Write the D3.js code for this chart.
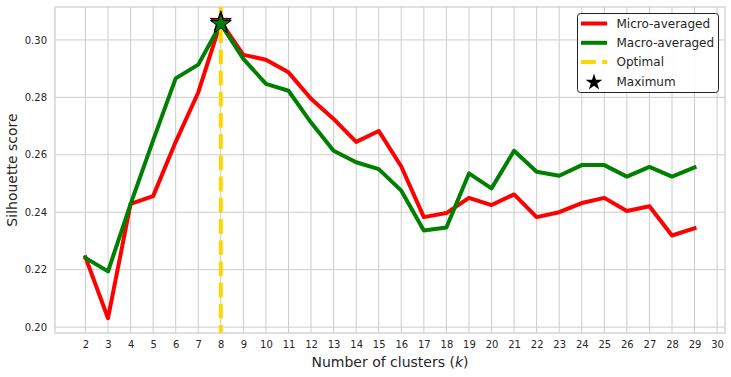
<!DOCTYPE html>
<html>
<head>
<meta charset="utf-8">
<script src="https://cdn.jsdelivr.net/npm/d3@7"></script>
<style>
	body { margin: 0; background: #fff; }
	svg { display: block; font-family: 'DejaVu Sans', sans-serif; }
</style>
</head>
<body>
<div id="chart"></div>
<script>
// number of clusters k
let clusters = d3.range(2, 30)
let xTicks = d3.range(2, 31)
let yTicks = [0.20, 0.22, 0.24, 0.26, 0.28, 0.30]

let microScores = [0.2243, 0.2031, 0.2429, 0.2456, 0.2645, 0.2817, 0.3063, 0.2948, 0.2931, 0.2887,
	0.2795, 0.2725, 0.2645, 0.2683, 0.2559, 0.2383, 0.2397, 0.2450, 0.2425, 0.2462,
	0.2383, 0.2400, 0.2432, 0.2450, 0.2404, 0.2421, 0.2319, 0.2344]
let macroScores = [0.2241, 0.2194, 0.2428, 0.2650, 0.2866, 0.2914, 0.3056, 0.2934, 0.2847, 0.2823,
	0.2712, 0.2614, 0.2574, 0.2550, 0.2475, 0.2336, 0.2347, 0.2535, 0.2483, 0.2614,
	0.2541, 0.2527, 0.2564, 0.2564, 0.2524, 0.2558, 0.2524, 0.2556]
let optimalK = 8

let legendItems = ['Micro-averaged', 'Macro-averaged', 'Optimal', 'Maximum']

let width = 731
let height = 377
let margin = { left: 55, right: 6, top: 7, bottom: 44 }

let svg = d3
	.select('#chart')
	.append('svg:svg')
	.attr('width', width)
	.attr('height', height)

// matplotlib style 5% padding
let xLo = d3.min(clusters), xHi = d3.max(clusters)
let xPad = (xHi - xLo) * 0.05
let allScores = microScores.concat(macroScores)
let yLo = d3.min(allScores), yHi = d3.max(allScores)
let yPad = (yHi - yLo) * 0.05

let x = d3.scaleLinear()
	.domain([xLo - xPad, xHi + xPad])
	.range([margin.left, width - margin.right])
let y = d3.scaleLinear()
	.domain([yLo - yPad, yHi + yPad])
	.range([height - margin.bottom, margin.top])

let gridColor = '#cccccc'
let textColor = '#262626'

// grid
svg.append('g')
	.selectAll('line')
	.data(xTicks)
	.join('line')
	.attr('x1', d => x(d)).attr('x2', d => x(d))
	.attr('y1', margin.top).attr('y2', height - margin.bottom)
	.attr('stroke', gridColor).attr('stroke-width', 1)
svg.append('g')
	.selectAll('line')
	.data(yTicks)
	.join('line')
	.attr('x1', margin.left).attr('x2', width - margin.right)
	.attr('y1', d => y(d)).attr('y2', d => y(d))
	.attr('stroke', gridColor).attr('stroke-width', 1)

// axes
let xAxis = svg.append('g')
	.attr('transform', `translate(0,${height - margin.bottom})`)
	.call(d3.axisBottom(x).tickValues(xTicks).tickSize(0).tickPadding(8).tickFormat(d3.format('d')))
let yAxis = svg.append('g')
	.attr('transform', `translate(${margin.left},0)`)
	.call(d3.axisLeft(y).tickValues(yTicks).tickSize(0).tickPadding(8).tickFormat(d3.format('.2f')))
for (let ax of [xAxis, yAxis]) {
	ax.select('.domain').remove()
	ax.selectAll('text')
		.attr('fill', textColor)
		.attr('font-size', 10)
		.attr('font-family', "'DejaVu Sans', sans-serif")
}

// frame
svg.append('rect')
	.attr('x', margin.left)
	.attr('y', margin.top)
	.attr('width', width - margin.left - margin.right)
	.attr('height', height - margin.top - margin.bottom)
	.attr('fill', 'none')
	.attr('stroke', gridColor)
	.attr('stroke-width', 1.2)

// labels
svg.append('text')
	.attr('x', (margin.left + width - margin.right) / 2)
	.attr('y', 367)
	.attr('text-anchor', 'middle')
	.attr('font-size', 14)
	.attr('fill', textColor)
	.html('Number of clusters (<tspan font-style="italic">k</tspan>)')
svg.append('text')
	.attr('transform', `translate(17,${(margin.top + height - margin.bottom) / 2}) rotate(-90)`)
	.attr('text-anchor', 'middle')
	.attr('font-size', 14)
	.attr('fill', textColor)
	.text('Silhouette score')

// series lines
let line = values => d3.line()
	.x((d, i) => x(clusters[i]))
	.y(d => y(d))(values)

svg.append('path')
	.attr('d', line(microScores))
	.attr('fill', 'none')
	.attr('stroke', '#ff0000')
	.attr('stroke-width', 4)
	.attr('stroke-linejoin', 'round')
	.attr('stroke-linecap', 'square')
svg.append('path')
	.attr('d', line(macroScores))
	.attr('fill', 'none')
	.attr('stroke', '#008000')
	.attr('stroke-width', 4)
	.attr('stroke-linejoin', 'round')
	.attr('stroke-linecap', 'square')

// optimal k
svg.append('line')
	.attr('x1', x(optimalK)).attr('x2', x(optimalK))
	.attr('y1', margin.top).attr('y2', height - margin.bottom)
	.attr('stroke', '#ffd700')
	.attr('stroke-width', 4)
	.attr('stroke-dasharray', '14.8,6.4')

// maxima
let star = d3.symbol().type(d3.symbolStar).size(136)
let maxMicro = d3.maxIndex(microScores)
let maxMacro = d3.maxIndex(macroScores)
svg.append('path')
	.attr('d', star())
	.attr('transform', `translate(${x(clusters[maxMicro])},${y(microScores[maxMicro])})`)
	.attr('fill', '#ff0000')
	.attr('stroke', '#000')
	.attr('stroke-width', 1)
svg.append('path')
	.attr('d', star())
	.attr('transform', `translate(${x(clusters[maxMacro])},${y(macroScores[maxMacro])})`)
	.attr('fill', '#008000')
	.attr('stroke', '#000')
	.attr('stroke-width', 1)

// legend
let legend = svg.append('g').attr('transform', 'translate(577,13)')
legend.append('rect')
	.attr('x', 0.5).attr('y', 0.5)
	.attr('width', 141).attr('height', 79)
	.attr('rx', 3)
	.attr('fill', '#fff')
	.attr('fill-opacity', 0.9)
	.attr('stroke', '#222')
	.attr('stroke-width', 1)

let rowY = i => 10.5 + i * 19.3
legend.selectAll('text')
	.data(legendItems)
	.join('text')
	.attr('x', 39.5)
	.attr('y', (d, i) => rowY(i))
	.attr('dy', '0.35em')
	.attr('font-size', 12)
	.attr('fill', textColor)
	.text(d => d)

let handleColors = ['#ff0000', '#008000', '#ffd700']
legend.selectAll('line')
	.data(handleColors)
	.join('line')
	.attr('x1', 4).attr('x2', 30)
	.attr('y1', (d, i) => rowY(i)).attr('y2', (d, i) => rowY(i))
	.attr('stroke', d => d)
	.attr('stroke-width', 4)
	.attr('stroke-dasharray', (d, i) => i == 2 ? '14.8,6.4' : null)
legend.append('path')
	.attr('d', d3.symbol().type(d3.symbolStar).size(87)())
	.attr('transform', `translate(17,${rowY(3) + 1})`)
	.attr('fill', '#000')
</script>
</body>
</html>
